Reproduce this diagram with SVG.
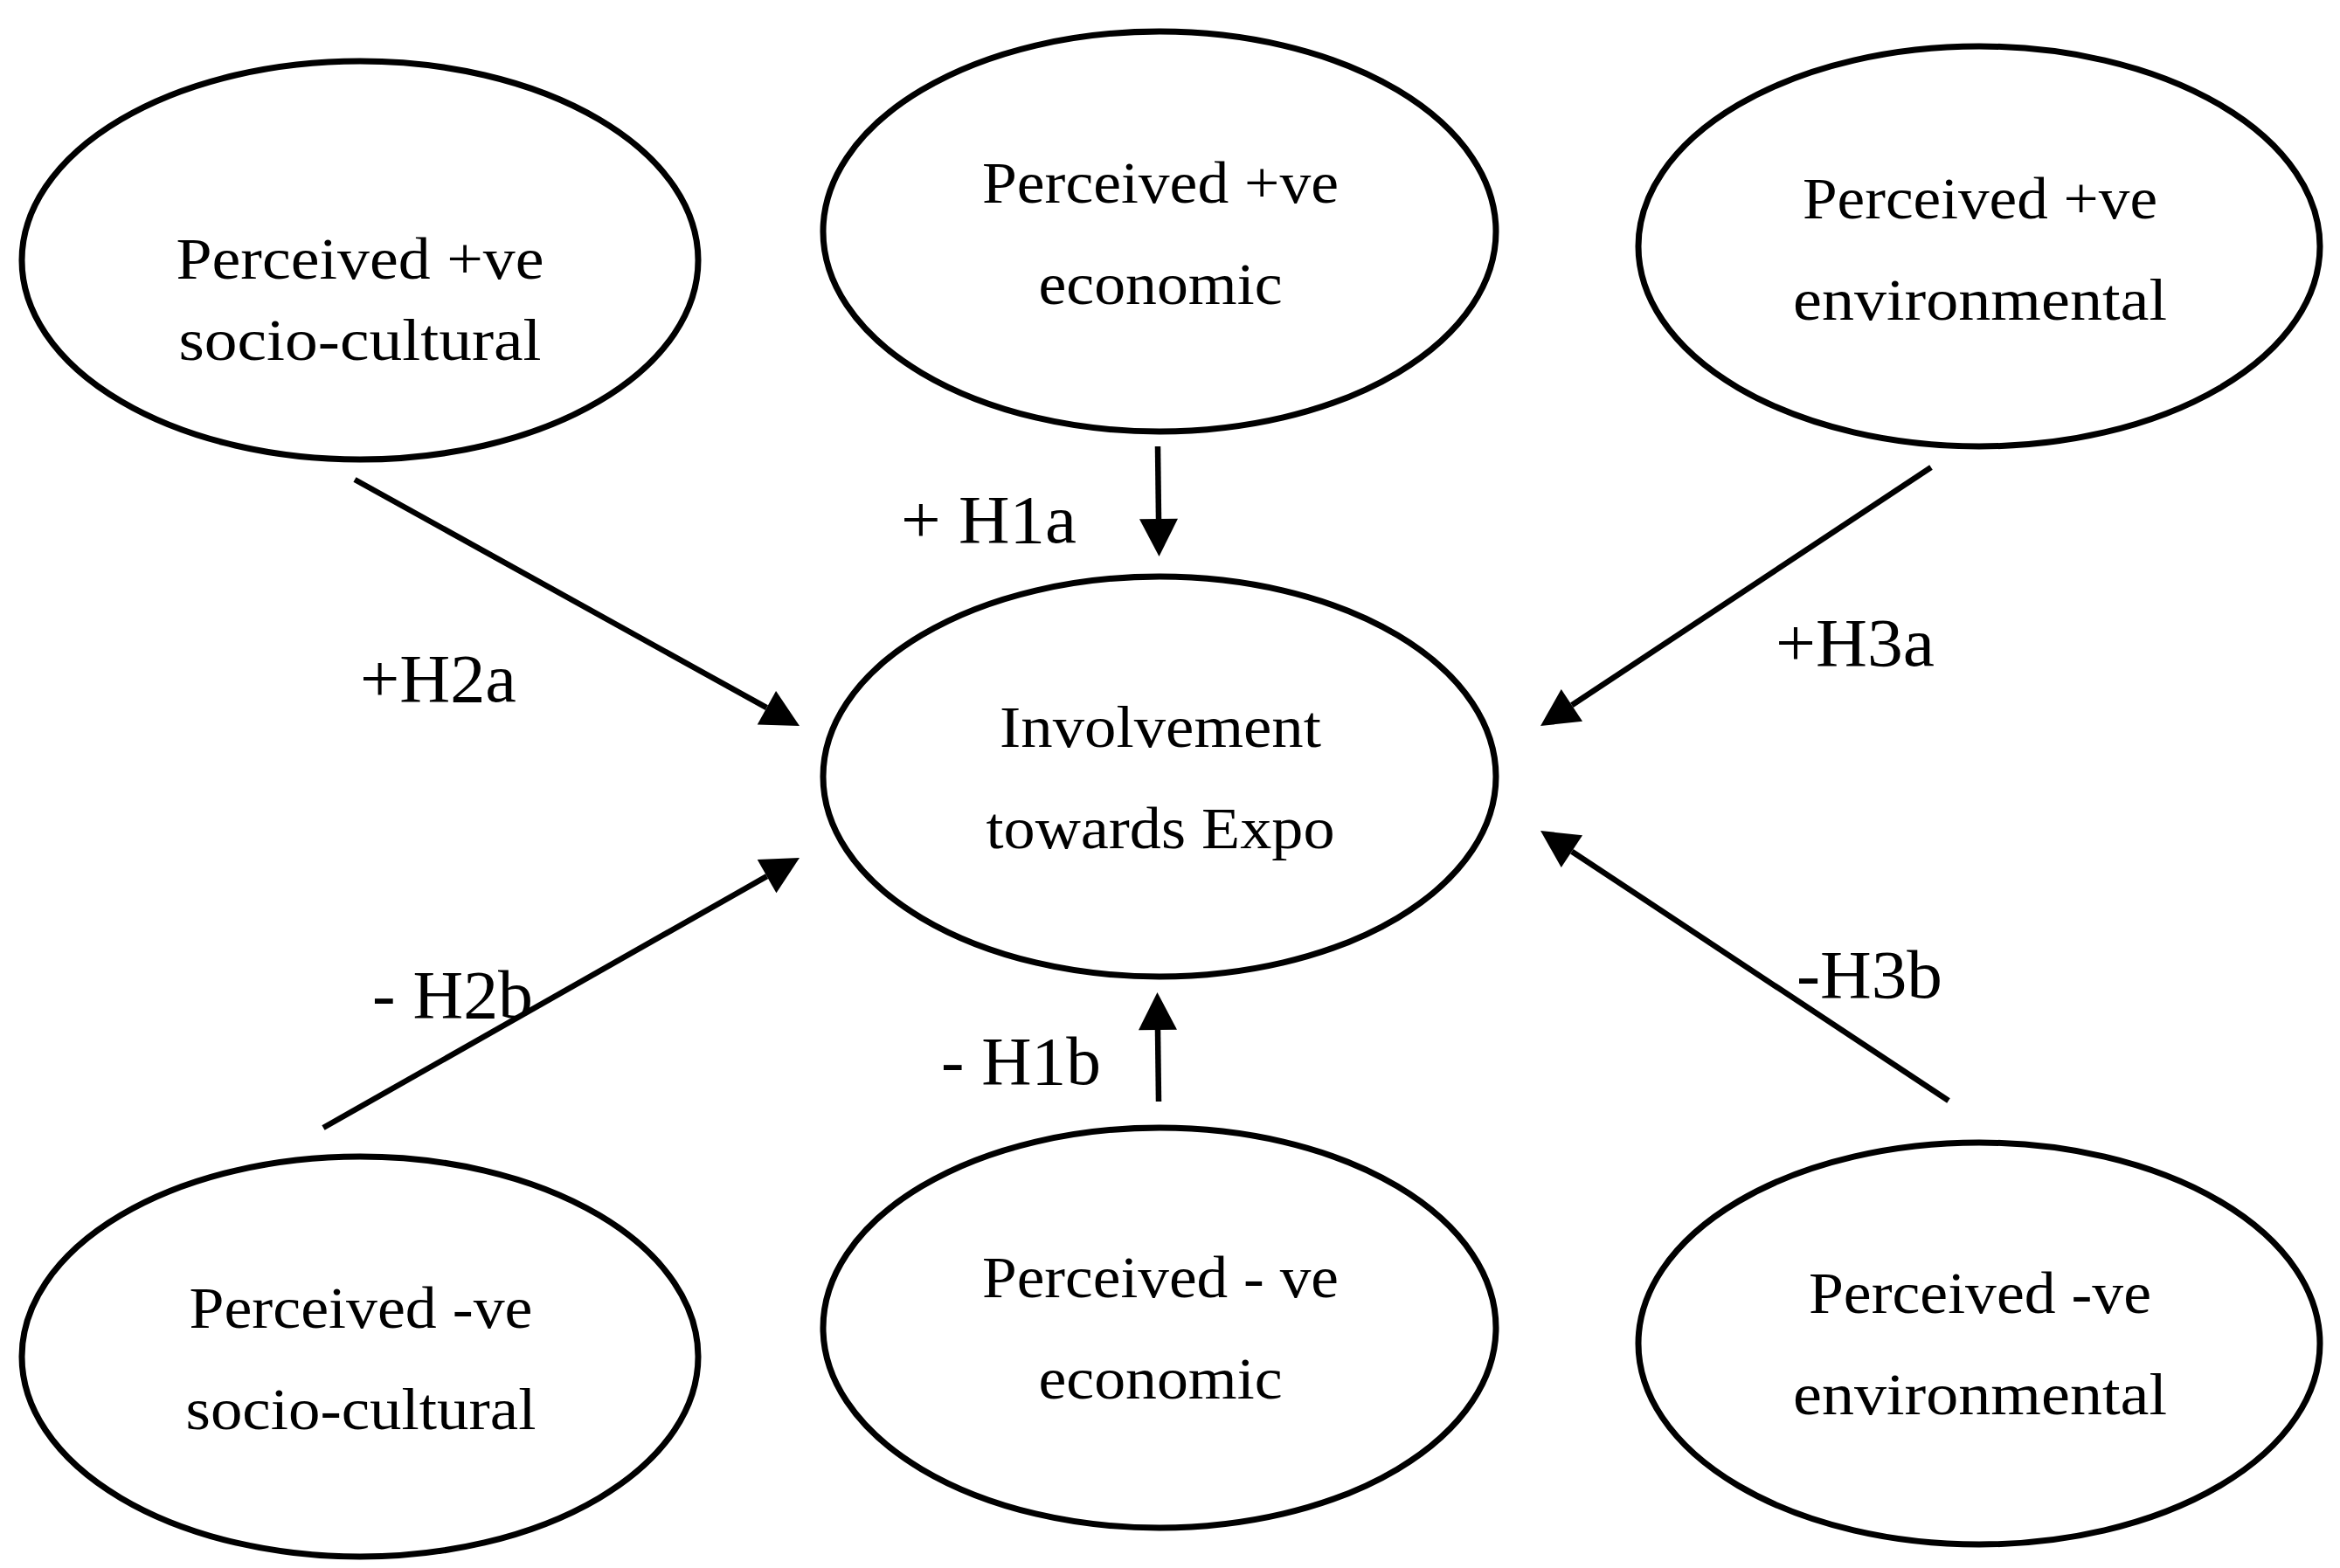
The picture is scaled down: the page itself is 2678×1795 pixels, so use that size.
<svg xmlns="http://www.w3.org/2000/svg" width="2678" height="1795" viewBox="0 0 2678 1795">
<style>
.node ellipse{fill:#fff;stroke:#000;stroke-width:7}
.node text{font-family:"Liberation Serif","Times New Roman",serif;font-size:68px;fill:#000;text-anchor:middle}
.conn line{stroke:#000;stroke-width:6.5;fill:none}
.lbl{font-family:"Liberation Serif","Times New Roman",serif;font-size:78px;fill:#000}
</style>
<defs>
<marker id="ah" markerUnits="userSpaceOnUse" markerWidth="46" markerHeight="46" refX="0" refY="22" orient="auto" overflow="visible">
<path d="M0,0 L43,22 L0,44 Z" fill="#000"/>
</marker>
</defs>
<rect width="2678" height="1795" fill="#fff"/>
<g id="n_pos_socio" class="node">
<ellipse cx="412" cy="298" rx="387" ry="228"/>
<text x="412" y="319" textLength="421" lengthAdjust="spacingAndGlyphs">Perceived +ve</text>
<text x="412" y="412" textLength="415" lengthAdjust="spacingAndGlyphs">socio-cultural</text>
</g>
<g id="n_pos_econ" class="node">
<ellipse cx="1327" cy="265" rx="385" ry="229"/>
<text x="1328" y="232" textLength="408" lengthAdjust="spacingAndGlyphs">Perceived +ve</text>
<text x="1328" y="348" textLength="279" lengthAdjust="spacingAndGlyphs">economic</text>
</g>
<g id="n_pos_env" class="node">
<ellipse cx="2265" cy="282" rx="390" ry="229"/>
<text x="2266" y="250" textLength="406" lengthAdjust="spacingAndGlyphs">Perceived +ve</text>
<text x="2266" y="366" textLength="428" lengthAdjust="spacingAndGlyphs">environmental</text>
</g>
<g id="n_involvement" class="node">
<ellipse cx="1327" cy="889" rx="385" ry="229"/>
<text x="1328" y="855" textLength="368" lengthAdjust="spacingAndGlyphs">Involvement</text>
<text x="1328" y="971" textLength="399" lengthAdjust="spacingAndGlyphs">towards Expo</text>
</g>
<g id="n_neg_socio" class="node">
<ellipse cx="412" cy="1553" rx="387" ry="229"/>
<text x="413" y="1520" textLength="393" lengthAdjust="spacingAndGlyphs">Perceived -ve</text>
<text x="413" y="1636" textLength="401" lengthAdjust="spacingAndGlyphs">socio-cultural</text>
</g>
<g id="n_neg_econ" class="node">
<ellipse cx="1327" cy="1520" rx="385" ry="229"/>
<text x="1328" y="1485" textLength="408" lengthAdjust="spacingAndGlyphs">Perceived - ve</text>
<text x="1328" y="1601" textLength="279" lengthAdjust="spacingAndGlyphs">economic</text>
</g>
<g id="n_neg_env" class="node">
<ellipse cx="2265" cy="1538" rx="390" ry="230"/>
<text x="2266" y="1503" textLength="392" lengthAdjust="spacingAndGlyphs">Perceived -ve</text>
<text x="2266" y="1619" textLength="428" lengthAdjust="spacingAndGlyphs">environmental</text>
</g>
<g id="connectors" class="conn">
<line x1="406" y1="549" x2="877.4" y2="810.2" marker-end="url(#ah)"/>
<line x1="1325" y1="511" x2="1326" y2="594" marker-end="url(#ah)"/>
<line x1="2210" y1="535" x2="1798.9" y2="807.3" marker-end="url(#ah)"/>
<line x1="370" y1="1291" x2="877.6" y2="1003.2" marker-end="url(#ah)"/>
<line x1="1326" y1="1261" x2="1325" y2="1179" marker-end="url(#ah)"/>
<line x1="2230" y1="1260" x2="1798.9" y2="974.7" marker-end="url(#ah)"/>
</g>
<g id="labels">
<text class="lbl" x="1031" y="621" textLength="201" lengthAdjust="spacingAndGlyphs">+ H1a</text>
<text class="lbl" x="412" y="803" textLength="179" lengthAdjust="spacingAndGlyphs">+H2a</text>
<text class="lbl" x="2032" y="762" textLength="182" lengthAdjust="spacingAndGlyphs">+H3a</text>
<text class="lbl" x="426" y="1165" textLength="184" lengthAdjust="spacingAndGlyphs">- H2b</text>
<text class="lbl" x="1077" y="1241" textLength="183" lengthAdjust="spacingAndGlyphs">- H1b</text>
<text class="lbl" x="2056" y="1142" textLength="167" lengthAdjust="spacingAndGlyphs">-H3b</text>
</g>
</svg>
